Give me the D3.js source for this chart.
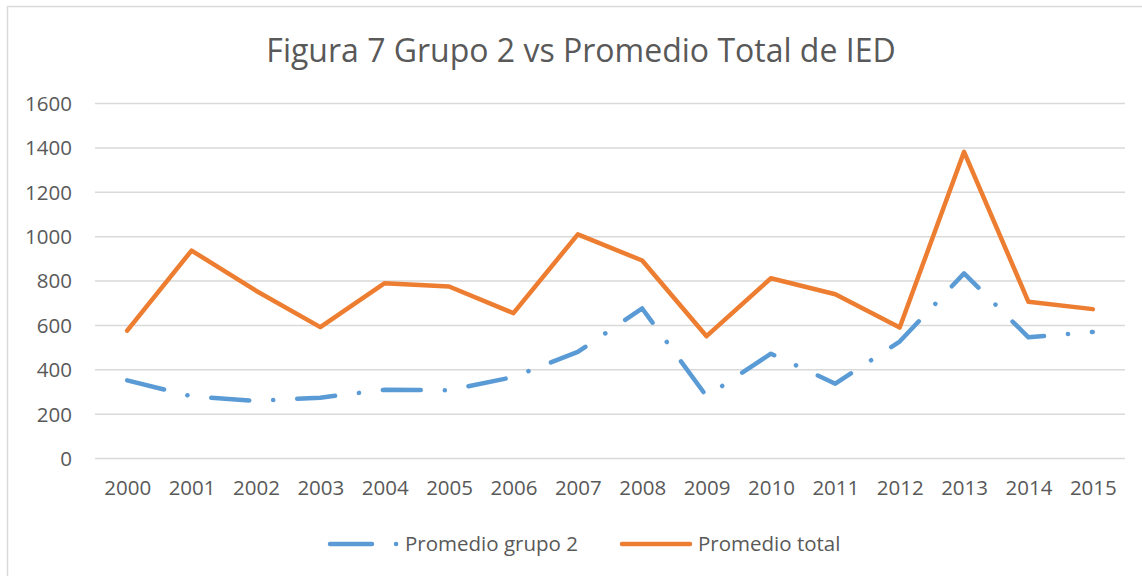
<!DOCTYPE html>
<html>
<head>
<meta charset="utf-8">
<script src="https://cdn.jsdelivr.net/npm/d3@7"></script>
<style>
  body { margin: 0; background: #fff; }
  text { font-family: "Open Sans", sans-serif; fill: #595959; }
</style>
</head>
<body>
<div id="chart"></div>
<script>
// data
const years = ["2000","2001","2002","2003","2004","2005","2006","2007","2008","2009","2010","2011","2012","2013","2014","2015"];
const grupo2 = [350, 278, 257, 272, 308, 305, 365, 478, 674, 278, 470, 335, 525, 832, 544, 568];
const total = [574, 935, 754, 590, 788, 773, 653, 1008, 890, 549, 810, 738, 588, 1380, 704, 671];
const yTicks = [0, 200, 400, 600, 800, 1000, 1200, 1400, 1600];

const width = 1142, height = 576;
const margin = {top: 103, right: 17, bottom: 118, left: 95};

const svg = d3.select("#chart").append("svg")
  .attr("width", width)
  .attr("height", height);

// chart border
svg.append("rect")
  .attr("x", 7.5).attr("y", 6.5)
  .attr("width", width + 10).attr("height", height + 10)
  .attr("fill", "none")
  .attr("stroke", "#d9d9d9")
  .attr("stroke-width", 1.5);

const x = d3.scalePoint()
  .domain(years)
  .range([margin.left, width - margin.right])
  .padding(0.5);

const y = d3.scaleLinear()
  .domain([0, 1600])
  .range([height - margin.bottom, margin.top]);

// gridlines
svg.append("g")
  .attr("transform", `translate(${margin.left},0)`)
  .call(d3.axisLeft(y).tickValues(yTicks)
    .tickSize(-(width - margin.left - margin.right))
    .tickFormat(""))
  .call(g => g.select(".domain").remove())
  .call(g => g.selectAll(".tick line").attr("stroke", "#d9d9d9").attr("stroke-width", 1.5));

// y labels
svg.append("g")
  .attr("transform", `translate(${margin.left},0)`)
  .call(d3.axisLeft(y).tickValues(yTicks).tickFormat(d3.format("d")).tickSize(0).tickPadding(23))
  .call(g => g.select(".domain").remove())
  .call(g => g.selectAll("text")
    .style("font-size", "20.5px")
    .attr("dy", "0.36em"));

// x labels
svg.append("g")
  .attr("transform", `translate(0,${height - margin.bottom})`)
  .call(d3.axisBottom(x).tickSize(0).tickPadding(22))
  .call(g => g.select(".domain").remove())
  .call(g => g.selectAll("text")
    .style("font-size", "20.5px")
    .attr("dy", "0.71em"));

const line = d3.line()
  .x((d, i) => x(years[i]))
  .y(d => y(d));

svg.append("path")
  .datum(grupo2)
  .attr("fill", "none")
  .attr("stroke", "#5b9bd5")
  .attr("stroke-width", 4.5)
  .attr("stroke-linecap", "round")
  .attr("stroke-linejoin", "round")
  .attr("stroke-dasharray", "38,24,0.1,24")
  .attr("d", line);

svg.append("path")
  .datum(total)
  .attr("fill", "none")
  .attr("stroke", "#ed7d31")
  .attr("stroke-width", 4.5)
  .attr("stroke-linecap", "round")
  .attr("stroke-linejoin", "round")
  .attr("d", line);

// title
svg.append("text")
  .attr("x", 581)
  .attr("y", 62)
  .attr("text-anchor", "middle")
  .style("font-size", "32px")
  .text("Figura 7 Grupo 2 vs Promedio Total de IED");

// legend
const legend = svg.append("g").attr("transform", "translate(0,544)");
legend.append("line")
  .attr("x1", 330).attr("x2", 397).attr("y1", 0).attr("y2", 0)
  .attr("stroke", "#5b9bd5").attr("stroke-width", 4.5)
  .attr("stroke-linecap", "round")
  .attr("stroke-dasharray", "42,24,0.1,100");
legend.append("text")
  .attr("x", 405).attr("y", 0).attr("dy", "0.35em")
  .style("font-size", "20.5px")
  .text("Promedio grupo 2");
legend.append("line")
  .attr("x1", 622).attr("x2", 690).attr("y1", 0).attr("y2", 0)
  .attr("stroke", "#ed7d31").attr("stroke-width", 4.5)
  .attr("stroke-linecap", "round");
legend.append("text")
  .attr("x", 698).attr("y", 0).attr("dy", "0.35em")
  .style("font-size", "20.5px")
  .text("Promedio total");
</script>
</body>
</html>
